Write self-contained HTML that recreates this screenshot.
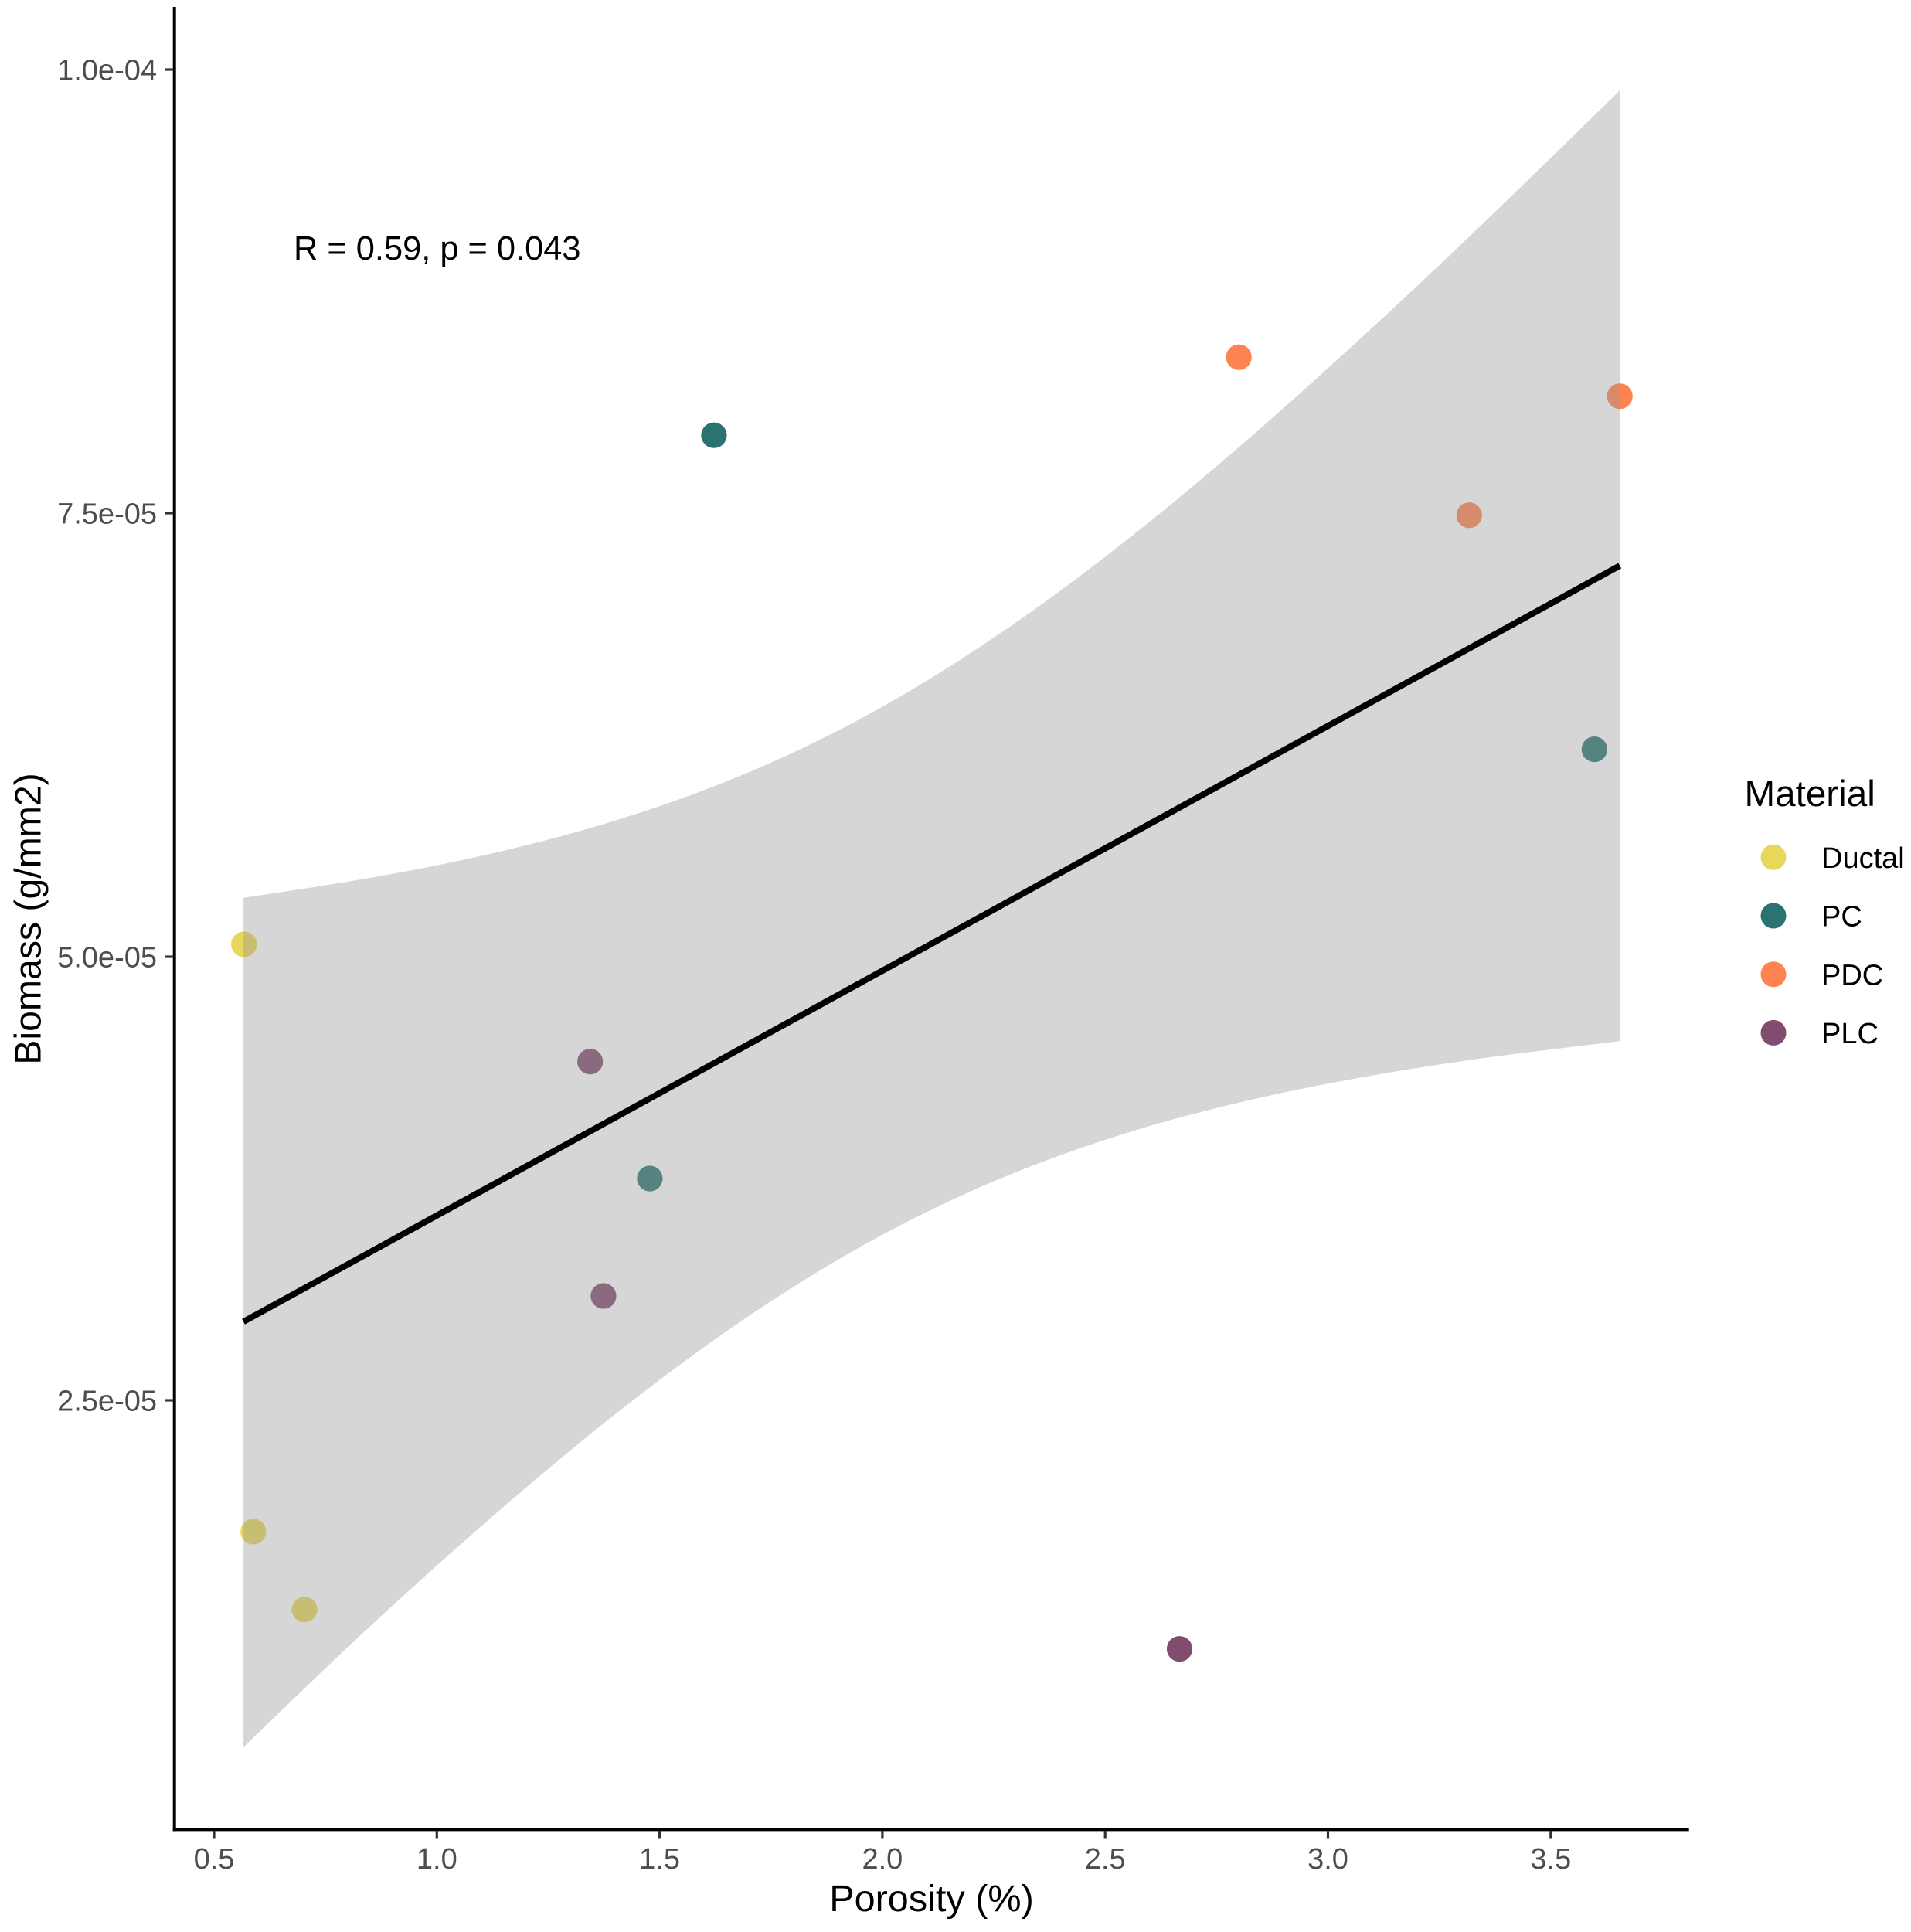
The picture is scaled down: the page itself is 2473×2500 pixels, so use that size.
<!DOCTYPE html>
<html lang="en">
<head>
<meta charset="utf-8">
<title>Biomass vs Porosity</title>
<style>
  html, body { margin: 0; padding: 0; background: #fff; }
  #chart { display: block; width: 2473px; height: 2500px; font-family: "Liberation Sans", Arial, sans-serif; }
</style>
</head>
<body>
<svg id="chart" xmlns="http://www.w3.org/2000/svg" width="2473" height="2500" viewBox="0 0 2473 2500">
  <rect x="0" y="0" width="2473" height="2500" fill="#ffffff"/>
  <g id="points"></g>
  <path id="band" fill="#999999" fill-opacity="0.4" stroke="none"/>
  <line id="trend" stroke="#000000" stroke-width="8" stroke-linecap="butt"/>
  <g id="axes"></g>
  <text x="380" y="336" font-size="43.4" fill="#000000">R = 0.59, p = 0.043</text>
  <text x="1205.5" y="2473" font-size="48.6" fill="#000000" text-anchor="middle">Porosity (%)</text>
  <text transform="translate(52.5 1189) rotate(-90)" font-size="48.2" fill="#000000" text-anchor="middle">Biomass (g/mm2)</text>
  <g id="legend">
    <text x="2257.5" y="1043" font-size="47.6" fill="#000000">Material</text>
  </g>
</svg>
<script>
// Categories and colours
const materials = ["Ductal", "PC", "PDC", "PLC"];
const materialColors = ["#E8D75A", "#2A7370", "#FF8350", "#824C70"];

// Scatter points
const pointMaterial = ["Ductal", "Ductal", "Ductal", "PC", "PC", "PC", "PDC", "PDC", "PDC", "PLC", "PLC", "PLC"];
const porosity = [0.567, 0.588, 0.703, 1.622, 1.478, 3.598, 2.800, 3.655, 3.317, 1.344, 1.374, 2.667];
const biomass = [5.070e-5, 1.760e-5, 1.321e-5, 7.939e-5, 3.750e-5, 6.169e-5, 8.379e-5, 8.159e-5, 7.488e-5, 4.409e-5, 3.088e-5, 1.099e-5];

// Regression line end points
const trendX = [0.566, 3.655];
const trendY = [2.943e-5, 7.204e-5];

// Confidence band edges
const bandX = [0.566, 0.8, 1.0, 1.2, 1.4, 1.6, 1.8, 2.0, 2.2, 2.4, 2.6, 2.8, 3.0, 3.2, 3.4, 3.655];
const upperY = [5.332e-5, 5.423e-5, 5.515e-5, 5.628e-5, 5.767e-5, 5.939e-5, 6.151e-5, 6.409e-5, 6.715e-5, 7.064e-5, 7.452e-5, 7.872e-5, 8.317e-5, 8.780e-5, 9.258e-5, 9.882e-5];
const lowerY = [0.545e-5, 1.109e-5, 1.569e-5, 2.008e-5, 2.421e-5, 2.800e-5, 3.139e-5, 3.433e-5, 3.680e-5, 3.882e-5, 4.046e-5, 4.178e-5, 4.285e-5, 4.373e-5, 4.446e-5, 4.524e-5];

// Axis ticks
const xTicks = [0.5, 1.0, 1.5, 2.0, 2.5, 3.0, 3.5];
const xTickLabels = ["0.5", "1.0", "1.5", "2.0", "2.5", "3.0", "3.5"];
const yTicks = [1.0e-4, 7.5e-5, 5.0e-5, 2.5e-5];
const yTickLabels = ["1.0e-04", "7.5e-05", "5.0e-05", "2.5e-05"];

const SVG_NS = "http://www.w3.org/2000/svg";
const xScale = v => 277 + (v - 0.5) * 576.6;
const yScale = v => 90 + (1e-4 - v) / 2.5e-5 * 574;

function make(tag, attrs, parent) {
  const el = document.createElementNS(SVG_NS, tag);
  for (const k in attrs) el.setAttribute(k, attrs[k]);
  parent.appendChild(el);
  return el;
}

// Catmull-Rom smoothing through screen points; returns bezier path segments
function curve(pts) {
  let d = "";
  for (let i = 0; i < pts.length - 1; i++) {
    const p0 = pts[Math.max(i - 1, 0)], p1 = pts[i], p2 = pts[i + 1], p3 = pts[Math.min(i + 2, pts.length - 1)];
    const c1x = p1[0] + (p2[0] - p0[0]) / 6, c1y = p1[1] + (p2[1] - p0[1]) / 6;
    const c2x = p2[0] - (p3[0] - p1[0]) / 6, c2y = p2[1] - (p3[1] - p1[1]) / 6;
    d += "C" + c1x.toFixed(1) + " " + c1y.toFixed(1) + " " + c2x.toFixed(1) + " " + c2y.toFixed(1) + " " + p2[0].toFixed(1) + " " + p2[1].toFixed(1);
  }
  return d;
}

// Points (drawn beneath the band)
const pointsGroup = document.getElementById("points");
porosity.forEach(function (x, i) {
  const material = pointMaterial[i];
  const c = make("circle", { cx: xScale(x), cy: yScale(biomass[i]), r: 16.6, fill: materialColors[materials.indexOf(material)] }, pointsGroup);
  
  
});

// Band
const upperPts = bandX.map((x, i) => [xScale(x), yScale(upperY[i])]);
const lowerPts = bandX.map((x, i) => [xScale(x), yScale(lowerY[i])]).reverse();
document.getElementById("band").setAttribute("d",
  "M" + upperPts[0][0].toFixed(1) + " " + upperPts[0][1].toFixed(1) + curve(upperPts) +
  "L" + lowerPts[0][0].toFixed(1) + " " + lowerPts[0][1].toFixed(1) + curve(lowerPts) + "Z");

// Regression line
const trend = document.getElementById("trend");
trend.setAttribute("x1", xScale(trendX[0]));
trend.setAttribute("y1", yScale(trendY[0]));
trend.setAttribute("x2", xScale(trendX[1]));
trend.setAttribute("y2", yScale(trendY[1]));

// Axes
const axes = document.getElementById("axes");
const yAxisLine = make("line", { x1: 225.7, y1: 9, x2: 225.7, y2: 2369.4, stroke: "#000000", "stroke-width": 4 }, axes);


const xAxisLine = make("line", { x1: 223.7, y1: 2367.4, x2: 2185.7, y2: 2367.4, stroke: "#000000", "stroke-width": 4 }, axes);



xTicks.forEach(function (t, i) {
  const px = xScale(t);
  const tick = make("line", { x1: px, y1: 2369, x2: px, y2: 2379.5, stroke: "#333333", "stroke-width": 3.2 }, axes);
  
  
  const label = make("text", { x: px, y: 2418, "font-size": 38, fill: "#4D4D4D", "text-anchor": "middle" }, axes);
  label.textContent = xTickLabels[i];
  
  
});

yTicks.forEach(function (t, i) {
  const py = yScale(t);
  const tick = make("line", { x1: 214, y1: py, x2: 224, y2: py, stroke: "#333333", "stroke-width": 3.2 }, axes);
  
  
  const label = make("text", { x: 203, y: py + 13.5, "font-size": 38, fill: "#4D4D4D", "text-anchor": "end" }, axes);
  label.textContent = yTickLabels[i];
  
  
});

// Legend
const legend = document.getElementById("legend");
materials.forEach(function (m, i) {
  const cy = 1109.3 + i * 75.7;
  const dot = make("circle", { cx: 2295, cy: cy, r: 16.5, fill: materialColors[i] }, legend);
  
  
  const label = make("text", { x: 2357, y: cy + 13.7, "font-size": 38, fill: "#000000" }, legend);
  label.textContent = m;
  
  
});
</script>
</body>
</html>
